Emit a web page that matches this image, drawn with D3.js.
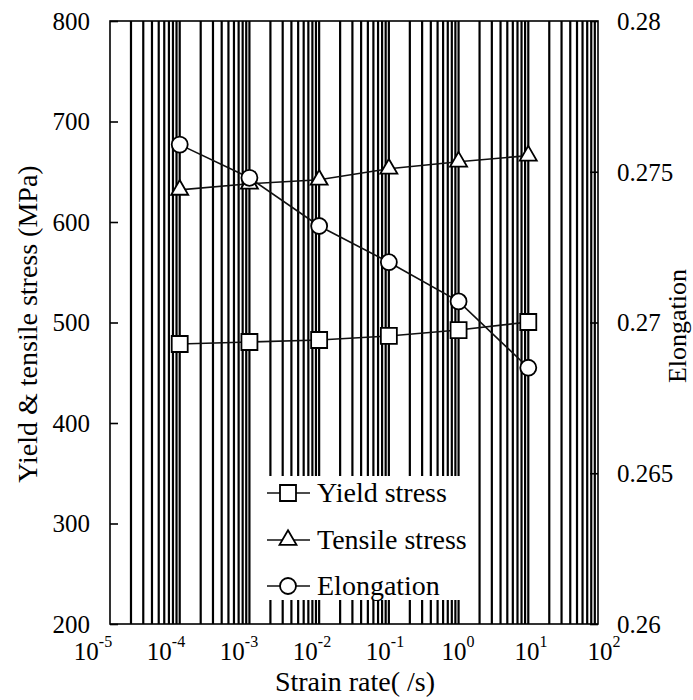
<!DOCTYPE html>
<html>
<head>
<meta charset="utf-8">
<script src="https://cdn.jsdelivr.net/npm/d3@7"></script>
<style>
	body { margin: 0; background: #fff; }
	svg text { font-family: "Liberation Serif", "Times New Roman", serif; fill: #000; }
</style>
</head>
<body>
<svg id="chart" width="693" height="700"></svg>
<script>
// data
var strainRates = [1e-4, 1e-3, 1e-2, 1e-1, 1e0, 1e1];
var yieldStress = [478.6, 480.6, 482.6, 486.6, 492.5, 500.5];
var tensileStress = [632, 638, 642, 653, 660, 666];
var elongation = [0.2759, 0.2748, 0.2732, 0.2720, 0.2707, 0.2685];

var xTickExponents = [-5, -4, -3, -2, -1, 0, 1, 2];
var leftTicks = [200, 300, 400, 500, 600, 700, 800];
var rightTicks = [0.26, 0.265, 0.27, 0.275, 0.28];
var legendNames = ['Yield stress', 'Tensile stress', 'Elongation'];

const Chart = {
	plot: { left: 110, right: 598, top: 21, bottom: 624 },
	legendBox: { x: 252, y: 476, width: 218, height: 124 },
	markerSize: { square: 256, triangle: 125, circle: 201 },

	xScale: null,
	yLeft: null,
	yRight: null,

	init: function() {
		const self = this;
		var p = self.plot;

		self.xScale = d3.scaleLog().domain([1e-5, 1e2]).range([p.left, p.right]);
		self.yLeft = d3.scaleLinear().domain([200, 800]).range([p.bottom, p.top]);
		self.yRight = d3.scaleLinear().domain([0.26, 0.28]).range([p.bottom, p.top]);
	},
	update: function() {
		Chart.init();
		Chart.drawGrid();
		Chart.drawSeries();
		Chart.drawLegend();
		Chart.drawFrame();
		Chart.drawAxes();
	},

	// grid

	drawGrid: function() {
		const self = this;
		var p = self.plot;
		var svg = d3.select('#chart');
		var gridValues = self.xScale.ticks()
			.filter(function(d) { return d > 1.01e-5 && d < 0.99e2; });

		svg.append('g')
			.attr('class', 'grid')
			.selectAll('line')
			.data(gridValues)
			.enter()
			.append('line')
			.attr('x1', function(d) { return self.xScale(d); })
			.attr('x2', function(d) { return self.xScale(d); })
			.attr('y1', p.top)
			.attr('y2', p.bottom)
			.style('stroke', '#000')
			.style('stroke-width', 2.2);
	},

	// series

	drawSeries: function() {
		const self = this;
		var svg = d3.select('#chart');
		var seriesList = [
			{ name: 'Yield stress', values: yieldStress, scale: self.yLeft, symbol: d3.symbolSquare, size: self.markerSize.square },
			{ name: 'Tensile stress', values: tensileStress, scale: self.yLeft, symbol: d3.symbolTriangle, size: self.markerSize.triangle },
			{ name: 'Elongation', values: elongation, scale: self.yRight, symbol: d3.symbolCircle, size: self.markerSize.circle }
		];

		seriesList.forEach(function(series) {
			var points = strainRates.map(function(x, i) {
				return [ self.xScale(x), series.scale(series.values[i]) ];
			});
			var group = svg.append('g').attr('class', 'series');

			group.append('path')
				.attr('d', d3.line()(points))
				.style('fill', 'none')
				.style('stroke', '#111')
				.style('stroke-width', 1.6);

			group.selectAll('.marker')
				.data(points)
				.enter()
				.append('path')
				.attr('class', 'marker')
				.attr('transform', function(d) { return 'translate(' + d + ')'; })
				.attr('d', d3.symbol().type(series.symbol).size(series.size))
				.style('fill', '#fff')
				.style('stroke', '#000')
				.style('stroke-width', 1.8);
		});
	},

	// legend

	drawLegend: function() {
		const self = this;
		var box = self.legendBox;
		var svg = d3.select('#chart');
		var symbols = [ d3.symbolSquare, d3.symbolTriangle, d3.symbolCircle ];
		var sizes = [ self.markerSize.square, self.markerSize.triangle, self.markerSize.circle ];
		var rowY = [ 493, 540, 586 ];

		var legend = svg.append('g').attr('class', 'legend');
		legend.append('rect')
			.attr('x', box.x)
			.attr('y', box.y)
			.attr('width', box.width)
			.attr('height', box.height)
			.style('fill', '#fff');

		var rows = legend.selectAll('.row')
			.data(legendNames)
			.enter()
			.append('g')
			.attr('class', 'row')
			.attr('transform', function(d, i) { return 'translate(' + [ box.x, rowY[i] ] + ')'; });

		rows.append('line')
			.attr('x1', 15).attr('x2', 58)
			.style('stroke', '#111')
			.style('stroke-width', 1.6);
		rows.append('path')
			.attr('transform', 'translate(36,0)')
			.attr('d', function(d, i) { return d3.symbol().type(symbols[i]).size(sizes[i])(); })
			.style('fill', '#fff')
			.style('stroke', '#000')
			.style('stroke-width', 1.8);
		rows.append('text')
			.attr('x', 65)
			.attr('dy', '0.33em')
			.style('font-size', '28px')
			.text(function(d) { return d; });
	},

	// frame + axes

	drawFrame: function() {
		const self = this;
		var p = self.plot;

		d3.select('#chart').append('rect')
			.attr('x', p.left)
			.attr('y', p.top)
			.attr('width', p.right - p.left)
			.attr('height', p.bottom - p.top)
			.style('fill', 'none')
			.style('stroke', '#000')
			.style('stroke-width', 1.6);
	},
	drawAxes: function() {
		const self = this;
		var p = self.plot;
		var svg = d3.select('#chart');

		var leftAxis = d3.axisLeft(self.yLeft).tickValues(leftTicks).tickSize(-8).tickPadding(20);
		var rightAxis = d3.axisRight(self.yRight).tickValues(rightTicks).tickSize(-8).tickPadding(19)
			.tickFormat(function(d) { return d3.format('')(+d.toFixed(3)); });

		[ svg.append('g').attr('transform', 'translate(' + p.left + ',0)').call(leftAxis),
		  svg.append('g').attr('transform', 'translate(' + p.right + ',0)').call(rightAxis) ]
			.forEach(function(axis) {
				axis.select('.domain').remove();
				axis.selectAll('line').style('stroke', '#000').style('stroke-width', 1.6);
				axis.selectAll('text')
					.style('font-size', '25px')
					.attr('dy', '0.33em');
				axis.attr('font-size', null).attr('font-family', null);
			});

		// x tick labels, drawn with a superscript exponent; spacing slightly wider than a decade
		var labelX = d3.scaleLinear().domain([-5, 2]).range([p.left - 17, p.right + 6]);
		var xLabels = svg.append('g')
			.attr('class', 'x-labels')
			.selectAll('text')
			.data(xTickExponents)
			.enter()
			.append('text')
			.attr('x', function(d) { return labelX(d); })
			.attr('y', 660)
			.attr('text-anchor', 'middle')
			.style('font-size', '25px');
		xLabels.append('tspan').text('10');
		xLabels.append('tspan')
			.attr('dy', -13)
			.style('font-size', '16px')
			.text(function(d) { return d; });

		svg.append('text')
			.attr('x', 355)
			.attr('y', 691)
			.attr('text-anchor', 'middle')
			.style('font-size', '28px')
			.text('Strain rate( /s)');

		svg.append('text')
			.attr('transform', 'translate(37,' + 324 + ') rotate(-90)')
			.attr('text-anchor', 'middle')
			.style('font-size', '28px')
			.text('Yield & tensile stress (MPa)');

		svg.append('text')
			.attr('transform', 'translate(686,' + 326 + ') rotate(-90)')
			.attr('text-anchor', 'middle')
			.style('font-size', '26px')
			.text('Elongation');
	}
}

Chart.update();
</script>
</body>
</html>
